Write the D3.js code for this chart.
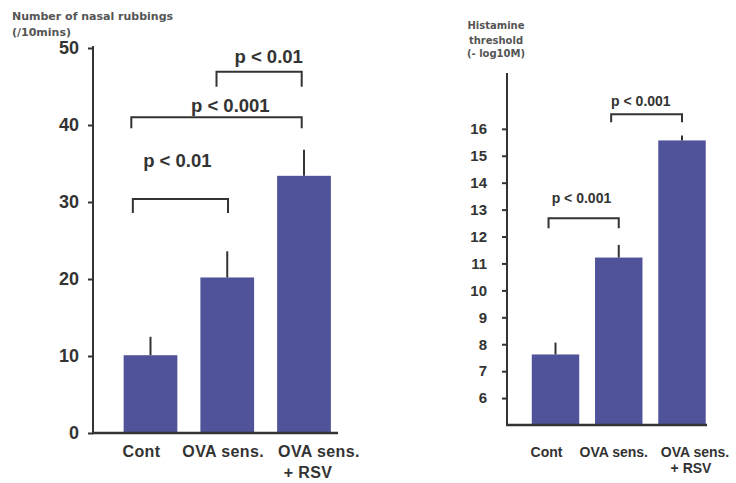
<!DOCTYPE html>
<html>
<head>
<meta charset="utf-8">
<script src="https://cdn.jsdelivr.net/npm/d3@7"></script>
<style>
  html, body { margin: 0; padding: 0; background: #fff; }
  svg { display: block; }
  text { font-family: "Liberation Sans", Arial, sans-serif; font-weight: bold; fill: #333; }
  .ylab { font-family: "DejaVu Sans", Verdana, sans-serif; fill: #555; }
</style>
</head>
<body>
<svg id="chart" width="736" height="483"></svg>
<script>
// Groups shared by both panels
const groups = ["Cont", "OVA sens.", "OVA sens.\n+ RSV"];

// Panel A: nasal rubbings per 10 min (mean, mean + SE)
const rubbingMean = [10.1, 20.2, 33.4];
const rubbingUpper = [12.5, 23.6, 36.8];
const rubbingTicks = [0, 10, 20, 30, 40, 50];

// Panel B: histamine threshold (-log10 M)
const histMean = [7.62, 11.22, 15.57];
const histUpper = [8.06, 11.69, 15.75];
const histTicks = [6, 7, 8, 9, 10, 11, 12, 13, 14, 15, 16];

// Significance brackets: ends on a group-index scale, bar height in axis units
const rubbingSig = [
  { a: -0.23, b: 1.01, y: 30.4, drop: 14, text: "p < 0.01",  tx: 0.35, ty: 34.6 },
  { a: -0.25, b: 1.97, y: 41.0, drop: 11, text: "p < 0.001", tx: 1.04, ty: 41.75 },
  { a: 0.86,  b: 1.97, y: 46.9, drop: 15, text: "p < 0.01",  tx: 1.54, ty: 48.06 }
];
const histSig = [
  { a: -0.11, b: 1.00, y: 12.68, drop: 10, text: "p < 0.001", tx: 0.41, ty: 13.23 },
  { a: 0.88,  b: 2.00, y: 16.54, drop: 8,  text: "p < 0.001", tx: 1.35, ty: 16.85 }
];

const svg = d3.select("#chart");
const barColor = "#50539a";
const ink = "#333";

function panel(cfg) {
  const g = svg.append("g");
  const x = d3.scalePoint().domain(d3.range(groups.length)).range(cfg.xRange);
  const xi = d3.scaleLinear().domain([0, groups.length - 1]).range(cfg.xRange);
  const y = d3.scaleLinear().domain(cfg.yDomain).range(cfg.yRange);
  const bw = x.step() * cfg.barFrac;

  // bars
  g.selectAll("rect.bar").data(cfg.mean).join("rect")
    .attr("class", "bar")
    .attr("x", (d, i) => x(i) - bw / 2)
    .attr("y", d => y(d))
    .attr("width", bw)
    .attr("height", d => y(cfg.yDomain[0]) - y(d))
    .attr("fill", barColor);

  // upward error whiskers
  g.selectAll("line.err").data(cfg.upper).join("line")
    .attr("class", "err")
    .attr("x1", (d, i) => x(i)).attr("x2", (d, i) => x(i))
    .attr("y1", (d, i) => y(cfg.mean[i])).attr("y2", d => y(d))
    .attr("stroke", ink).attr("stroke-width", 2);

  // y axis
  const ax = g.append("g")
    .attr("transform", `translate(${cfg.axisX},0)`)
    .call(d3.axisLeft(y).tickValues(cfg.ticks).tickSize(5).tickPadding(cfg.tickPad));
  ax.attr("font-family", null).attr("font-size", null);
  ax.select(".domain").remove();
  ax.selectAll(".tick line").attr("stroke", ink).attr("stroke-width", 2);
  ax.selectAll(".tick text")
    .attr("font-weight", "bold")
    .style("font-size", cfg.tickFont + "px")
    .style("font-family", '"Liberation Sans", Arial, sans-serif')
    .style("font-weight", "700")
    .attr("fill", ink);

  g.append("line")
    .attr("x1", cfg.axisX).attr("x2", cfg.axisX)
    .attr("y1", cfg.axisTop).attr("y2", y(cfg.yDomain[0]) + 1)
    .attr("stroke", ink).attr("stroke-width", 2);
  g.append("line")
    .attr("x1", cfg.axisX - 1).attr("x2", cfg.baseEnd)
    .attr("y1", y(cfg.yDomain[0])).attr("y2", y(cfg.yDomain[0]))
    .attr("stroke", ink).attr("stroke-width", 2.5);

  // group labels
  groups.forEach((label, i) => {
    const t = g.append("text")
      .attr("text-anchor", "middle")
      .style("font-size", cfg.catFont + "px")
      .style("letter-spacing", cfg.catSpacing + "px");
    label.split("\n").forEach((line, k) => {
      t.append("tspan")
        .attr("x", x(i) + cfg.catShift[i] + (k ? cfg.secondShift : 0))
        .attr("y", cfg.catY + k * cfg.catLine)
        .text(line);
    });
  });

  // significance brackets
  cfg.sig.forEach(s => {
    const yy = y(s.y);
    g.append("path")
      .attr("d", `M${xi(s.a)},${yy + s.drop}V${yy}H${xi(s.b)}V${yy + s.drop}`)
      .attr("fill", "none").attr("stroke", ink).attr("stroke-width", 2);
    g.append("text")
      .attr("x", xi(s.tx)).attr("y", y(s.ty))
      .attr("text-anchor", "middle")
      .style("font-size", cfg.pFont + "px")
      .text(s.text);
  });

  // y title
  const title = g.append("text").attr("class", "ylab")
    .attr("text-anchor", cfg.titleAnchor)
    .style("font-size", cfg.titleFont + "px");
  cfg.title.forEach((line, k) => {
    title.append("tspan").attr("x", cfg.titleX).attr("y", cfg.titleY[k]).text(line);
  });
}

panel({
  xRange: [150.5, 304], barFrac: 0.70,
  yDomain: [0, 50], yRange: [433, 48],
  mean: rubbingMean, upper: rubbingUpper, ticks: rubbingTicks,
  axisX: 93, axisTop: 46, baseEnd: 338,
  tickPad: 9, tickFont: 18,
  catFont: 16, catSpacing: 0.4, catY: 457, catLine: 21,
  catShift: [-9, -4, 15], secondShift: -11,
  sig: rubbingSig, pFont: 18.5,
  title: ["Number of nasal rubbings", "(/10mins)"],
  titleX: 12, titleY: [20, 36], titleFont: 11, titleAnchor: "start"
});

panel({
  xRange: [555.5, 682], barFrac: 0.75,
  yDomain: [5, 18], yRange: [425, 75],
  mean: histMean, upper: histUpper, ticks: histTicks,
  axisX: 507, axisTop: 73, baseEnd: 707,
  tickPad: 15, tickFont: 15,
  catFont: 14, catSpacing: 0, catY: 457, catLine: 16,
  catShift: [-9, -5, 13], secondShift: -4,
  sig: histSig, pFont: 14,
  title: ["Histamine", "threshold", "(- log10M)"],
  titleX: 496, titleY: [29, 44, 57], titleFont: 10, titleAnchor: "middle"
});
</script>
</body>
</html>
